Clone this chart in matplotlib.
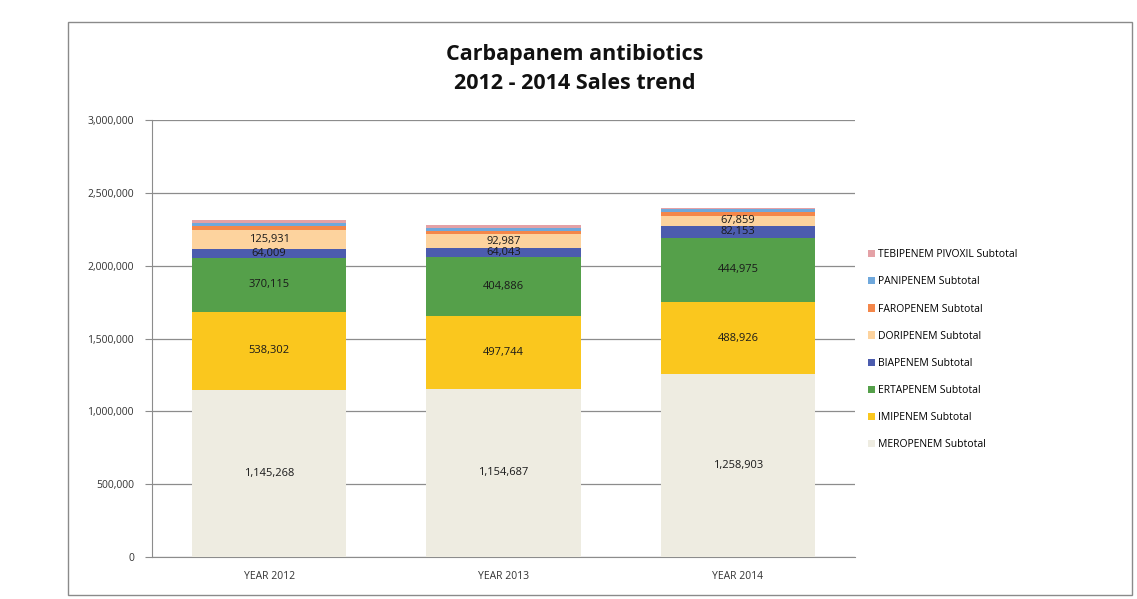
import numpy as np
import matplotlib.pyplot as plt
from matplotlib.patches import Rectangle
from matplotlib.ticker import FuncFormatter

years = ['YEAR 2012', 'YEAR 2013', 'YEAR 2014']
series = ['MEROPENEM Subtotal', 'IMIPENEM Subtotal', 'ERTAPENEM Subtotal',
          'BIAPENEM Subtotal', 'DORIPENEM Subtotal', 'FAROPENEM Subtotal',
          'PANIPENEM Subtotal', 'TEBIPENEM PIVOXIL Subtotal']

meropenem = [1145268, 1154687, 1258903]
imipenem = [538302, 497744, 488926]
ertapenem = [370115, 404886, 444975]
biapenem = [64009, 64043, 82153]
doripenem = [125931, 92987, 67859]
# small segments
faropenem = [30000, 22000, 25000]
panipenem = [16000, 20000, 20000]
tebipenem = [23000, 22000, 10000]

values = [meropenem, imipenem, ertapenem, biapenem, doripenem,
          faropenem, panipenem, tebipenem]
labelled = [True, True, True, True, True, False, False, False]
colors = ['#eeece1', '#fac71e', '#55a04a', '#4c5cae', '#fdd39e',
          '#f4874a', '#6fa8dc', '#e4a1a6']

plt.rcParams['font.family'] = ['Open Sans', 'DejaVu Sans']

fig = plt.figure(figsize=(11.37, 5.99), dpi=100)
ax = fig.add_axes([152 / 1137, 1 - 557 / 599, 703 / 1137, 437 / 599])

fig.patches.append(Rectangle((68 / 1137, 4 / 599), 1064 / 1137, 573 / 599,
                             transform=fig.transFigure, fill=False,
                             edgecolor='#8a8a8a', linewidth=1))

x = np.arange(len(years))
bottom = np.zeros(len(years))
for name, vals, col, lab in zip(series, values, colors, labelled):
    vals = np.array(vals, dtype=float)
    ax.bar(x, vals, 0.66, bottom=bottom, color=col, label=name, zorder=3)
    if lab:
        for xi, b, v in zip(x, bottom, vals):
            ax.text(xi, b + v / 2, f'{int(v):,}', ha='center', va='center',
                    fontsize=8, color='#1a1a1a', zorder=4)
    bottom += vals

ax.set_xlim(-0.5, 2.5)
ax.set_ylim(0, 3000000)
ax.set_yticks(np.arange(0, 3000001, 500000))
ax.yaxis.set_major_formatter(FuncFormatter(lambda v, p: f'{int(v):,}'))
ax.set_xticks(x)
ax.set_xticklabels(years)
ax.grid(axis='y', color='#8c8c8c', linewidth=0.9, zorder=0)
for s in ['top', 'right']:
    ax.spines[s].set_visible(False)
for s in ['left', 'bottom']:
    ax.spines[s].set_color('#8c8c8c')
ax.tick_params(axis='y', length=5, color='#8c8c8c', labelsize=7.5,
               labelcolor='#333333', pad=8)
ax.tick_params(axis='x', length=0, labelsize=7.5, labelcolor='#333333', pad=10)

h, l = ax.get_legend_handles_labels()
leg = ax.legend(h[::-1], l[::-1], loc='center left', bbox_to_anchor=(1.005, 0.474),
                frameon=False, fontsize=7.5, handlelength=0.7, handleheight=0.7,
                handletextpad=0.3, labelspacing=1.55)

fig.text(575 / 1137, 1 - 69 / 599, 'Carbapanem antibiotics\n2012 - 2014 Sales trend',
         ha='center', va='center', fontsize=15.5, fontweight='bold',
         color='#111111', linespacing=1.55)

fig.savefig('out.png', dpi=100)
